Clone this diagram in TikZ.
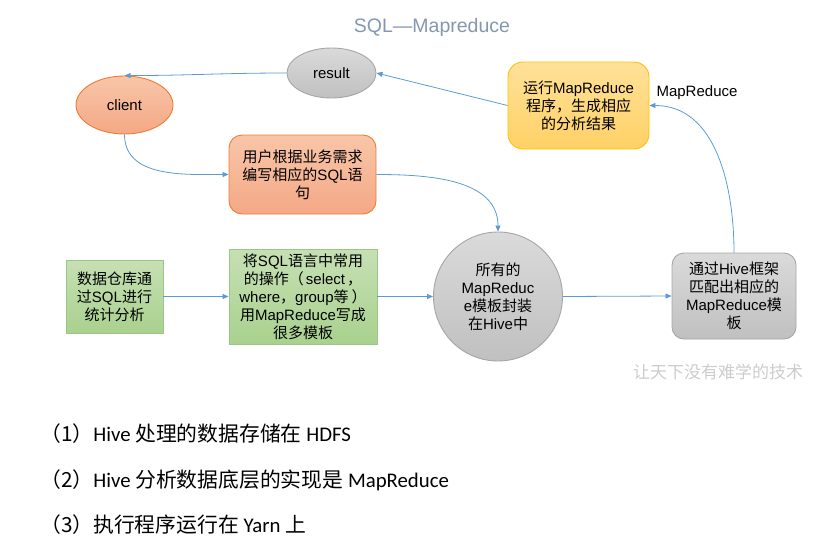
\documentclass[tikz,border=0pt]{standalone}
\usepackage{fontspec}
\setmainfont{Liberation Sans}
\newfontfamily\cjk{Noto Sans CJK SC}
\newfontfamily\calib{Carlito}
\usetikzlibrary{shapes.geometric,arrows.meta}
\newcommand\zh[1]{{\cjk #1}}
\definecolor{arrowblue}{HTML}{5B9BD5}
\definecolor{titlecol}{HTML}{8497B0}
\definecolor{orangeT}{HTML}{F8C6A8}
\definecolor{orangeB}{HTML}{F4A886}
\definecolor{orangeD}{HTML}{ED7D31}
\definecolor{grayT}{HTML}{DADADA}
\definecolor{grayB}{HTML}{C0C0C0}
\definecolor{grayD}{HTML}{A6A6A6}
\definecolor{yelT}{HTML}{FFE199}
\definecolor{yelB}{HTML}{FFD166}
\definecolor{yelD}{HTML}{FFC000}
\definecolor{grnT}{HTML}{C6E0B4}
\definecolor{grnB}{HTML}{A9D18E}
\definecolor{grnD}{HTML}{9BC784}
\begin{document}
\begin{tikzpicture}[x=1pt,y=-1pt,
  txt/.style={font=\fontsize{15}{18}\selectfont, align=center, inner sep=0pt, text=black},
  orangefill/.style={top color=orangeT, bottom color=orangeB, draw=orangeD, line width=0.9pt},
  grayfill/.style={top color=grayT, bottom color=grayB, draw=grayD, line width=0.9pt},
  yelfill/.style={top color=yelT, bottom color=yelB, draw=yelD, line width=0.9pt},
  grnfill/.style={top color=grnT, bottom color=grnB, draw=grnD, line width=0.9pt},
  ell/.style={ellipse, txt},
  rbox/.style={rectangle, rounded corners=13pt, txt},
  sbox/.style={rectangle, txt},
  arr/.style={draw=arrowblue, line width=0.8pt, -{Triangle[length=6pt,width=5pt]}},
  bottomtxt/.style={anchor=west, inner sep=0pt, font=\calib\fontsize{20.8}{24}\selectfont}
]
\useasboundingbox (0,0) rectangle (819,549);

\node[txt, font=\fontsize{19.5}{22}\selectfont, text=titlecol] (title) at (432,27) {SQL—Mapreduce};

\node[ell, grayfill, minimum width=89pt, minimum height=50pt] (result) at (331.5,73) {result};
\node[ell, orangefill, minimum width=97pt, minimum height=58pt] (client) at (124.5,105) {client};
\node[rbox, orangefill, minimum width=147pt, minimum height=79pt] (need) at (302.5,174.5)
  {\zh{用户根据业务需求}\\\zh{编写相应的}SQL\zh{语}\\\zh{句}};
\node[rbox, yelfill, rounded corners=15pt, minimum width=141pt, minimum height=87pt] (run) at (578.5,105.5)
  {\zh{运行}MapReduce\\\zh{程序，生成相应}\\\zh{的分析结果}};
\node[txt] (mrlabel) at (697,93) {MapReduce};

\node[sbox, grnfill, minimum width=97pt, minimum height=73pt] (dw) at (114.5,296.5)
  {\zh{数据仓库通}\\\zh{过}SQL\zh{进行}\\\zh{统计分析}};
\node[sbox, grnfill, minimum width=148pt, minimum height=95pt] (tmpl) at (303,296.5)
  {\zh{将}SQL\zh{语言中常用}\\\zh{的操作（}\hspace{2pt}select\hspace{2pt}\zh{，}\\where\zh{，}group\zh{等}\hspace{3pt}\zh{）}\\\zh{用}MapReduce\zh{写成}\\\zh{很多模板}};
\node[circle, grayfill, txt, minimum size=129pt] (hive) at (498,296.5)
  {\zh{所有的}\\MapReduc\\e\zh{模板封装}\\\zh{在}Hive\zh{中}};
\node[rbox, grayfill, rounded corners=12pt, minimum width=124pt, minimum height=86pt] (match) at (734,296)
  {\zh{通过}Hive\zh{框架}\\\zh{匹配出相应的}\\MapReduce\zh{模}\\\zh{板}};

\node[txt, font=\cjk\fontsize{17}{20}\selectfont, text=gray!40] (wm) at (718,372) {让天下没有难学的技术};

\draw[arr] (result.west) to[out=180,in=0] (client.north);
\draw[arr] (run.west) -- (result.east);
\draw[arr] (client.south) to[out=-90,in=180] (need.west);
\draw[arr] (need.east) to[out=0,in=90] (hive.north);
\draw[arr] (dw.east) -- (tmpl.west);
\draw[arr] (tmpl.east) -- (hive.west);
\draw[arr] (hive.east) -- (match.west);
\draw[arr] (match.north) to[out=90,in=0] (run.east);

\node[bottomtxt] (l1) at (40,434) {\zh{（1）}Hive \zh{处理的数据存储在} HDFS};
\node[bottomtxt] (l2) at (40,480) {\zh{（2）}Hive \zh{分析数据底层的实现是} MapReduce};
\node[bottomtxt] (l3) at (40,525) {\zh{（3）执行程序运行在} Yarn \zh{上}};
\end{tikzpicture}
\end{document}
